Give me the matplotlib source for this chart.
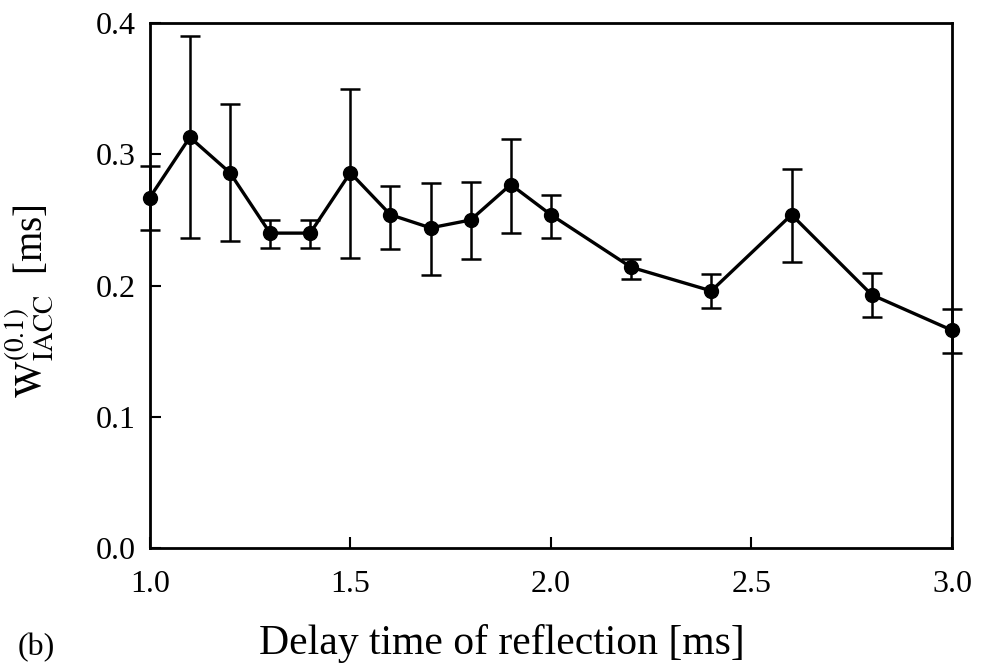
import matplotlib
matplotlib.use("Agg")
import matplotlib.pyplot as plt
import numpy as np

# delay time [ms]
delay = [1.0, 1.1, 1.2, 1.3, 1.4, 1.5, 1.6, 1.7, 1.8, 1.9, 2.0, 2.2, 2.4, 2.6, 2.8, 3.0]
# mean W_IACC [ms]
w_mean = [0.267, 0.313, 0.286, 0.240, 0.240, 0.286, 0.254, 0.244, 0.250, 0.277,
          0.254, 0.214, 0.196, 0.254, 0.193, 0.166]
# error bar ends
w_low = [0.242, 0.236, 0.234, 0.229, 0.229, 0.221, 0.228, 0.208, 0.220, 0.240,
         0.236, 0.205, 0.183, 0.218, 0.176, 0.149]
w_high = [0.291, 0.390, 0.338, 0.250, 0.250, 0.350, 0.276, 0.278, 0.279, 0.312,
          0.269, 0.220, 0.209, 0.289, 0.210, 0.182]

x_ticks = [1.0, 1.5, 2.0, 2.5, 3.0]
y_ticks = [0.0, 0.1, 0.2, 0.3, 0.4]

plt.rcParams["font.family"] = ["Liberation Serif", "DejaVu Serif"]
plt.rcParams["mathtext.fontset"] = "stix"

fig = plt.figure(figsize=(9.85, 6.67), dpi=100)
ax = fig.add_axes([0.152, 0.178, 0.8145, 0.7875])

mean = np.array(w_mean)
yerr = [mean - np.array(w_low), np.array(w_high) - mean]
ax.errorbar(delay, w_mean, yerr=yerr, color="black", marker="o", markersize=10,
            linewidth=2.4, elinewidth=1.8, capsize=7, capthick=1.8, clip_on=False)

ax.set_xlim(1.0, 3.0)
ax.set_ylim(0.0, 0.4)
ax.set_xticks(x_ticks)
ax.set_yticks(y_ticks)
ax.set_xticklabels([f"{v:.1f}" for v in x_ticks])
ax.set_yticklabels([f"{v:.1f}" for v in y_ticks])
ax.tick_params(direction="in", length=8, width=1.5, labelsize=23)
ax.tick_params(axis="x", pad=16)
ax.tick_params(axis="y", pad=10)
for s in ax.spines.values():
    s.set_linewidth(2.0)

ax.set_xlabel("Delay time of reflection [ms]", fontsize=30)
ax.xaxis.set_label_coords(0.439, -0.145)
ax.set_ylabel(r"$\mathrm{W}_{\mathrm{IACC}}^{(0.1)}$  [ms]", fontsize=28)
ax.yaxis.set_label_coords(-0.118, 0.47)
fig.text(0.018, 0.018, "(b)", fontsize=23)

fig.savefig("out.png", dpi=100)
